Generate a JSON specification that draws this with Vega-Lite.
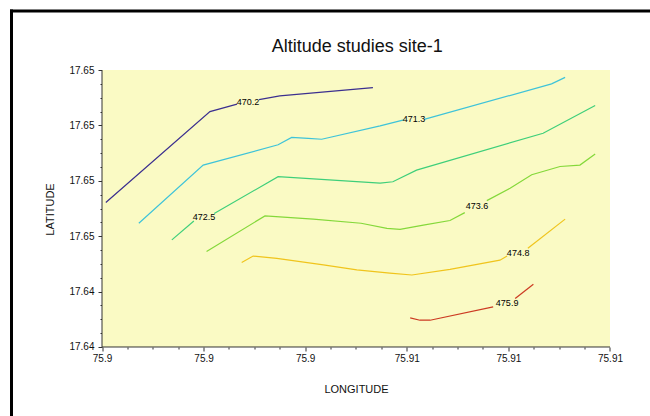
{
  "$schema": "https://vega.github.io/schema/vega-lite/v6.json",
  "width": 638.5,
  "height": 405,
  "autosize": {"type": "none"},
  "padding": {"left": 11.5, "top": 11, "right": 0, "bottom": 0},
  "background": "white",
  "title": {
    "text": "Altitude studies site-1",
    "font": "Liberation Sans",
    "fontSize": 18,
    "fontWeight": "normal",
    "color": "#111111",
    "anchor": "middle",
    "frame": "group",
    "offset": -48,
    "dx": 26.5
  },
  "config": {"view": {"stroke": null}, "axis": {"grid": false}},
  "resolve": {"axis": {"x": "independent", "y": "independent"}},
  "datasets": {
    "contours": [
      {"level": "470.2", "seg": "470.2a", "i": 1, "lon": 75.89959, "lat": 17.64613},
      {"level": "470.2", "seg": "470.2a", "i": 2, "lon": 75.90205, "lat": 17.64810},
      {"level": "470.2", "seg": "470.2a", "i": 3, "lon": 75.90269, "lat": 17.64826},
      {"level": "470.2", "seg": "470.2b", "i": 4, "lon": 75.90321, "lat": 17.64836},
      {"level": "470.2", "seg": "470.2b", "i": 5, "lon": 75.90370, "lat": 17.64844},
      {"level": "470.2", "seg": "470.2b", "i": 6, "lon": 75.90590, "lat": 17.64862},
      {"level": "471.3", "seg": "471.3a", "i": 1, "lon": 75.90037, "lat": 17.64568},
      {"level": "471.3", "seg": "471.3a", "i": 2, "lon": 75.90189, "lat": 17.64694},
      {"level": "471.3", "seg": "471.3a", "i": 3, "lon": 75.90366, "lat": 17.64738},
      {"level": "471.3", "seg": "471.3a", "i": 4, "lon": 75.90398, "lat": 17.64754},
      {"level": "471.3", "seg": "471.3a", "i": 5, "lon": 75.90437, "lat": 17.64752},
      {"level": "471.3", "seg": "471.3a", "i": 6, "lon": 75.90469, "lat": 17.64750},
      {"level": "471.3", "seg": "471.3a", "i": 7, "lon": 75.90607, "lat": 17.64779},
      {"level": "471.3", "seg": "471.3a", "i": 8, "lon": 75.90663, "lat": 17.64792},
      {"level": "471.3", "seg": "471.3b", "i": 9, "lon": 75.90711, "lat": 17.64793},
      {"level": "471.3", "seg": "471.3b", "i": 10, "lon": 75.91012, "lat": 17.64870},
      {"level": "471.3", "seg": "471.3b", "i": 11, "lon": 75.91044, "lat": 17.64884},
      {"level": "472.5", "seg": "472.5a", "i": 1, "lon": 75.90115, "lat": 17.64532},
      {"level": "472.5", "seg": "472.5a", "i": 2, "lon": 75.90167, "lat": 17.64573},
      {"level": "472.5", "seg": "472.5b", "i": 3, "lon": 75.90215, "lat": 17.64589},
      {"level": "472.5", "seg": "472.5b", "i": 4, "lon": 75.90366, "lat": 17.64669},
      {"level": "472.5", "seg": "472.5b", "i": 5, "lon": 75.90607, "lat": 17.64655},
      {"level": "472.5", "seg": "472.5b", "i": 6, "lon": 75.90637, "lat": 17.64658},
      {"level": "472.5", "seg": "472.5b", "i": 7, "lon": 75.90693, "lat": 17.64683},
      {"level": "472.5", "seg": "472.5b", "i": 8, "lon": 75.90992, "lat": 17.64763},
      {"level": "472.5", "seg": "472.5b", "i": 9, "lon": 75.91115, "lat": 17.64823},
      {"level": "473.6", "seg": "473.6a", "i": 1, "lon": 75.90197, "lat": 17.64507},
      {"level": "473.6", "seg": "473.6a", "i": 2, "lon": 75.90335, "lat": 17.64584},
      {"level": "473.6", "seg": "473.6a", "i": 3, "lon": 75.90449, "lat": 17.64577},
      {"level": "473.6", "seg": "473.6a", "i": 4, "lon": 75.90562, "lat": 17.64568},
      {"level": "473.6", "seg": "473.6a", "i": 5, "lon": 75.90623, "lat": 17.64557},
      {"level": "473.6", "seg": "473.6a", "i": 6, "lon": 75.90654, "lat": 17.64555},
      {"level": "473.6", "seg": "473.6a", "i": 7, "lon": 75.90709, "lat": 17.64564},
      {"level": "473.6", "seg": "473.6a", "i": 8, "lon": 75.90772, "lat": 17.64574},
      {"level": "473.6", "seg": "473.6a", "i": 9, "lon": 75.90807, "lat": 17.64591},
      {"level": "473.6", "seg": "473.6b", "i": 10, "lon": 75.90859, "lat": 17.64617},
      {"level": "473.6", "seg": "473.6b", "i": 11, "lon": 75.90914, "lat": 17.64644},
      {"level": "473.6", "seg": "473.6b", "i": 12, "lon": 75.90965, "lat": 17.64673},
      {"level": "473.6", "seg": "473.6b", "i": 13, "lon": 75.91032, "lat": 17.64691},
      {"level": "473.6", "seg": "473.6b", "i": 14, "lon": 75.91079, "lat": 17.64694},
      {"level": "473.6", "seg": "473.6b", "i": 15, "lon": 75.91115, "lat": 17.64718},
      {"level": "474.8", "seg": "474.8a", "i": 1, "lon": 75.90280, "lat": 17.64483},
      {"level": "474.8", "seg": "474.8a", "i": 2, "lon": 75.90307, "lat": 17.64497},
      {"level": "474.8", "seg": "474.8a", "i": 3, "lon": 75.90363, "lat": 17.64492},
      {"level": "474.8", "seg": "474.8a", "i": 4, "lon": 75.90473, "lat": 17.64478},
      {"level": "474.8", "seg": "474.8a", "i": 5, "lon": 75.90552, "lat": 17.64467},
      {"level": "474.8", "seg": "474.8a", "i": 6, "lon": 75.90630, "lat": 17.64460},
      {"level": "474.8", "seg": "474.8a", "i": 7, "lon": 75.90682, "lat": 17.64456},
      {"level": "474.8", "seg": "474.8a", "i": 8, "lon": 75.90772, "lat": 17.64468},
      {"level": "474.8", "seg": "474.8a", "i": 9, "lon": 75.90890, "lat": 17.64488},
      {"level": "474.8", "seg": "474.8a", "i": 10, "lon": 75.90907, "lat": 17.64497},
      {"level": "474.8", "seg": "474.8b", "i": 11, "lon": 75.90956, "lat": 17.64514},
      {"level": "474.8", "seg": "474.8b", "i": 12, "lon": 75.91044, "lat": 17.64577},
      {"level": "475.9", "seg": "475.9a", "i": 1, "lon": 75.90678, "lat": 17.64363},
      {"level": "475.9", "seg": "475.9a", "i": 2, "lon": 75.90701, "lat": 17.64358},
      {"level": "475.9", "seg": "475.9a", "i": 3, "lon": 75.90725, "lat": 17.64358},
      {"level": "475.9", "seg": "475.9a", "i": 4, "lon": 75.90874, "lat": 17.64387},
      {"level": "475.9", "seg": "475.9b", "i": 5, "lon": 75.90926, "lat": 17.64405},
      {"level": "475.9", "seg": "475.9b", "i": 6, "lon": 75.90969, "lat": 17.64436}
    ],
    "labels": [
      {"label": "470.2", "lon": 75.90295, "lat": 17.64831},
      {"label": "471.3", "lon": 75.90687, "lat": 17.64793},
      {"label": "472.5", "lon": 75.90191, "lat": 17.64581},
      {"label": "473.6", "lon": 75.90836, "lat": 17.64605},
      {"label": "474.8", "lon": 75.90933, "lat": 17.64504},
      {"label": "475.9", "lon": 75.90907, "lat": 17.64395}
    ]
  },
  "layer": [
    {
      "data": {"values": [{}]},
      "mark": {"type": "rect", "fill": "#fafac4"},
      "encoding": {
        "x": {"datum": 75.8995, "type": "quantitative", "scale": {"domain": [75.8973622, 75.9124449], "nice": false, "zero": false}, "axis": null},
        "x2": {"datum": 75.9115},
        "y": {"datum": 17.643, "type": "quantitative", "scale": {"domain": [17.6415054, 17.650278], "nice": false, "zero": false}, "axis": null},
        "y2": {"datum": 17.649}
      }
    },
    {
      "data": {"values": [{}]},
      "mark": {"type": "rule", "color": "#333333", "strokeWidth": 1},
      "encoding": {
        "x": {"datum": 75.8995, "type": "quantitative", "scale": {"domain": [75.8973622, 75.9124449], "nice": false, "zero": false}, "axis": null},
        "x2": {"datum": 75.9115},
        "y": {"datum": 17.643, "type": "quantitative", "scale": {"domain": [17.6415054, 17.650278], "nice": false, "zero": false}, "axis": null}
      }
    },
    {
      "data": {"values": [{}]},
      "mark": {"type": "rule", "color": "#333333", "strokeWidth": 1},
      "encoding": {
        "x": {"datum": 75.8995, "type": "quantitative", "scale": {"domain": [75.8973622, 75.9124449], "nice": false, "zero": false}, "axis": null},
        "y": {"datum": 17.643, "type": "quantitative", "scale": {"domain": [17.6415054, 17.650278], "nice": false, "zero": false}, "axis": null},
        "y2": {"datum": 17.649}
      }
    },
    {
      "data": {"name": "contours"},
      "mark": {"type": "line", "strokeWidth": 1.2},
      "encoding": {
        "x": {
          "field": "lon", "type": "quantitative",
          "scale": {"domain": [75.8973622, 75.9124449], "nice": false, "zero": false},
          "axis": {
            "orient": "bottom", "offset": -69, "domain": false, "grid": false,
            "values": [75.8995, 75.9001, 75.9007, 75.9013, 75.9019, 75.9025, 75.9031, 75.9037, 75.9043, 75.9049, 75.9055, 75.9061, 75.9067, 75.9073, 75.9079, 75.9085, 75.9091, 75.9097, 75.9103, 75.9109, 75.9115],
            "tickColor": "#333333", "tickWidth": 1,
            "tickSize": {"condition": {"test": "abs((datum.value-75.8995)/0.0024-round((datum.value-75.8995)/0.0024))<0.05", "value": 4}, "value": 2},
            "labelExpr": "abs((datum.value-75.8995)/0.0024-round((datum.value-75.8995)/0.0024))<0.05 ? format(datum.value, '.2~f') : ''",
            "labelFont": "Liberation Sans Narrow, Liberation Sans", "labelFontSize": 10, "labelColor": "#111111",
            "labelPadding": 2, "labelFlush": false, "labelOverlap": false,
            "title": "LONGITUDE", "titleFont": "Liberation Sans", "titleFontSize": 11, "titleFontWeight": "normal", "titleColor": "#111111",
            "titleX": 344.5, "titleY": 36, "titleBaseline": "top", "titleAlign": "center"
          }
        },
        "y": {
          "field": "lat", "type": "quantitative",
          "scale": {"domain": [17.6415054, 17.650278], "nice": false, "zero": false},
          "axis": {
            "orient": "left", "offset": -90.5, "domain": false, "grid": false,
            "values": [17.643, 17.6433, 17.6436, 17.6439, 17.6442, 17.6445, 17.6448, 17.6451, 17.6454, 17.6457, 17.646, 17.6463, 17.6466, 17.6469, 17.6472, 17.6475, 17.6478, 17.6481, 17.6484, 17.6487, 17.649],
            "tickColor": "#333333", "tickWidth": 1,
            "tickSize": {"condition": {"test": "abs((datum.value-17.643)/0.0012-round((datum.value-17.643)/0.0012))<0.05", "value": 4}, "value": 2},
            "labelExpr": "abs((datum.value-17.643)/0.0012-round((datum.value-17.643)/0.0012))<0.05 ? format(datum.value, '.2f') : ''",
            "labelFont": "Liberation Sans Narrow, Liberation Sans", "labelFontSize": 10, "labelColor": "#111111",
            "labelPadding": 4, "labelOverlap": false, "labelFlush": false,
            "title": "LATITUDE", "titleFont": "Liberation Sans", "titleFontSize": 11, "titleFontWeight": "normal", "titleColor": "#111111",
            "titleX": -52, "titleY": 198, "titleBaseline": "middle", "titleAlign": "center", "titleAngle": -90
          }
        },
        "color": {
          "field": "level", "type": "nominal",
          "scale": {"domain": ["470.2", "471.3", "472.5", "473.6", "474.8", "475.9"], "range": ["#3b2f8f", "#3ec3d9", "#3ecf7a", "#84d83a", "#f0c41c", "#cc3a22"]},
          "legend": null
        },
        "detail": {"field": "seg", "type": "nominal"},
        "order": {"field": "i", "type": "quantitative"}
      }
    },
    {
      "data": {"name": "labels"},
      "mark": {"type": "text", "font": "Liberation Sans Narrow, Liberation Sans", "fontSize": 9, "color": "#000000", "align": "center", "baseline": "middle"},
      "encoding": {
        "x": {"field": "lon", "type": "quantitative", "scale": {"domain": [75.8973622, 75.9124449], "nice": false, "zero": false}, "axis": null},
        "y": {"field": "lat", "type": "quantitative", "scale": {"domain": [17.6415054, 17.650278], "nice": false, "zero": false}, "axis": null},
        "text": {"field": "label", "type": "nominal"}
      }
    },
    {
      "data": {"values": [{}]},
      "mark": {"type": "rule", "color": "#000000", "strokeWidth": 3, "strokeCap": "butt"},
      "encoding": {
        "x": {"datum": 75.8973268, "type": "quantitative", "scale": {"domain": [75.8973622, 75.9124449], "nice": false, "zero": false}, "axis": null},
        "x2": {"datum": 75.9124449},
        "y": {"datum": 17.650278, "type": "quantitative", "scale": {"domain": [17.6415054, 17.650278], "nice": false, "zero": false}, "axis": null}
      }
    },
    {
      "data": {"values": [{}]},
      "mark": {"type": "rule", "color": "#000000", "strokeWidth": 3, "strokeCap": "butt"},
      "encoding": {
        "x": {"datum": 75.8973622, "type": "quantitative", "scale": {"domain": [75.8973622, 75.9124449], "nice": false, "zero": false}, "axis": null},
        "y": {"datum": 17.6415054, "type": "quantitative", "scale": {"domain": [17.6415054, 17.650278], "nice": false, "zero": false}, "axis": null},
        "y2": {"datum": 17.6503105}
      }
    }
  ]
}
